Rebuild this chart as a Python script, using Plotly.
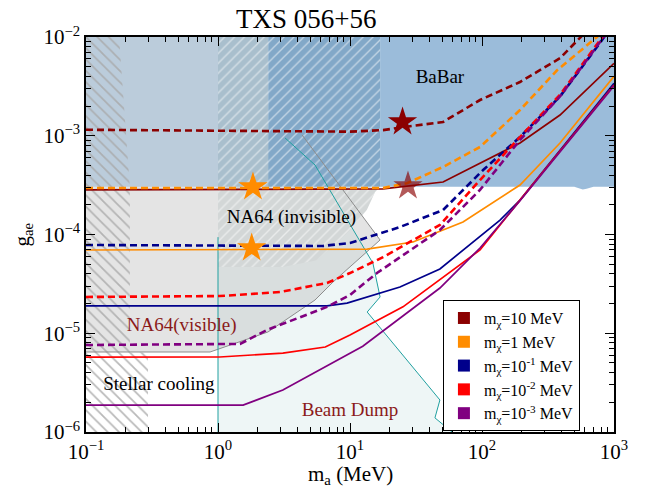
import plotly.graph_objects as go

FONT = "Liberation Serif, DejaVu Serif, Times New Roman, serif"

# ---------------- data ----------------
# BaBar excluded band (lower edge) and its colour zones along m_a
babar_zone_x = [0.1, 1.0, 2.4, 16.9, 1000]
babar_zone_colors = ["#BBCCDB", "#A9BFCD", "#82A8C8", "#9BBCDA"]
babar_low_x = [16.9, 500, 580, 620, 700, 1000]
babar_low_y = [3.05e-4, 3.05e-4, 2.85e-4, 2.9e-4, 3.05e-4, 3.05e-4]
g_top = 1e-2
g_babar = 3.05e-4

# Beam dump region
bd_x = [1.0, 1.0, 2.6, 3.22, 5.43, 14.9, 16.9, 13.5, 48, 44, 59.3]
bd_y = [1e-6, 9.4e-5, 8e-4, 9.5e-4, 5.06e-4, 5.14e-5, 2.33e-5, 1.64e-5, 2.11e-6, 1.39e-6, 1e-6]

# NA64 (visible) outline
na64v_x = [0.1, 0.87, 2.39, 5.43, 7.43, 16.9, 4.33, 0.1]
na64v_y = [6.46e-6, 6.46e-6, 1.03e-5, 2.17e-5, 3.3e-5, 8.8e-5, 1.02e-3, 1.02e-3]

# NA64 (invisible) hatched region
na64i_x = [1.0, 3.1, 5.6, 9.5, 13.4, 15.5, 16.9, 16.9, 1.0]
na64i_y = [4.7e-5, 4.7e-5, 5.5e-5, 1.03e-4, 1.77e-4, 2.7e-4, 3.05e-4, 1e-2, 1e-2]

# Stellar cooling hatched region
stellar_x = [0.1, 0.295, 0.295, 0.215, 0.215, 0.178, 0.1]
stellar_y = [1e-6, 1e-6, 6.4e-6, 6.4e-6, 3e-4, 1e-2, 1e-2]

# Sensitivity curves (m_chi values)
labels = ["m<sub>χ</sub>=10 MeV", "m<sub>χ</sub>=1 MeV", "m<sub>χ</sub>=10<sup>-1</sup> MeV",
          "m<sub>χ</sub>=10<sup>-2</sup> MeV", "m<sub>χ</sub>=10<sup>-3</sup> MeV"]
colors = ["#8B0000", "#FF8C00", "#00008B", "#FF0000", "#800080"]

dash_x = [
    [0.1, 1, 10, 17.8, 25, 50.7, 96.6, 194, 390, 552, 1000],
    [0.1, 17.8, 27, 50.7, 96.6, 194, 370, 743, 1000],
    [0.1, 6.2, 10, 23.9, 50.7, 102, 194, 390, 783, 1000],
    [0.1, 1.03, 2.95, 6.7, 10, 17.8, 48, 96.6, 194, 390, 783, 1000],
    [0.1, 1.47, 2.35, 6.7, 10, 16, 48, 96.6, 194, 390, 783, 1000],
]
dash_y = [
    [1.15e-3, 1.12e-3, 1.1e-3, 1.14e-3, 1.22e-3, 1.38e-3, 2.3e-3, 3.5e-3, 6.1e-3, 9.8e-3, 2.2e-2],
    [2.96e-4, 2.96e-4, 3.3e-4, 4.83e-4, 7.7e-4, 1.82e-3, 4.6e-3, 1.0e-2, 1.5e-2],
    [7.83e-5, 7.65e-5, 8.2e-5, 1.19e-4, 1.77e-4, 4.5e-4, 9.7e-4, 2.5e-3, 8.7e-3, 1.4e-2],
    [2.33e-5, 2.38e-5, 2.62e-5, 3.23e-5, 4.07e-5, 5.9e-5, 1.25e-4, 3.56e-4, 9.7e-4, 2.6e-3, 9.3e-3, 1.4e-2],
    [7.6e-6, 7.8e-6, 1.08e-5, 1.85e-5, 2.44e-5, 4.07e-5, 1.11e-4, 2.83e-4, 9.06e-4, 2.5e-3, 8.9e-3, 1.35e-2],
]
solid_x = [
    [0.1, 10, 17.8, 50.7, 194, 390, 1000],
    [0.1, 13.5, 30, 71.8, 194, 390, 1000],
    [0.1, 6.7, 9.5, 23.9, 48, 137, 194, 1000],
    [0.1, 1.03, 3.1, 6.5, 10, 25.2, 96.6, 194, 1000],
    [0.1, 1.55, 3.1, 12.5, 48, 96.6, 194, 1000],
]
solid_y = [
    [2.83e-4, 2.85e-4, 2.9e-4, 3.4e-4, 8.45e-4, 1.62e-3, 5.4e-3],
    [6.97e-5, 7.1e-5, 8.4e-5, 1.34e-4, 3.17e-4, 8.45e-4, 4.0e-3],
    [1.89e-5, 1.89e-5, 2.02e-5, 2.94e-5, 4.48e-5, 1.4e-4, 2.23e-4, 3.4e-3],
    [5.74e-6, 5.75e-6, 6.3e-6, 7.26e-6, 9.6e-6, 1.85e-5, 6.97e-5, 2.23e-4, 3.27e-3],
    [1.87e-6, 1.87e-6, 2.66e-6, 7.4e-6, 2.87e-5, 7.3e-5, 2.2e-4, 3.2e-3],
]

# Benchmark stars
star_x = [25, 27.5, 1.84, 1.8]
star_y = [1.38e-3, 3.1e-4, 3.03e-4, 7.3e-5]
star_colors = ["#8B0000", "#8B0000", "#FF8C00", "#FF8C00"]
star_opacity = [1.0, 0.65, 1.0, 1.0]

# Region labels
reg_text = ["BaBar", "NA64 (invisible)", "NA64(visible)", "Stellar cooling", "Beam Dump"]
reg_x = [48, 3.6, 0.53, 0.357, 10.0]
reg_y = [3.85e-3, 1.47e-4, 1.18e-5, 3.0e-6, 1.63e-6]
reg_col = ["black", "black", "#8B1A1A", "black", "#8B1A1A"]

# Axis ticks
x_tickvals = [0.1, 1, 10, 100, 1000]
x_ticktext = ["10<sup>−1</sup>", "10<sup>0</sup>", "10<sup>1</sup>", "10<sup>2</sup>", "10<sup>3</sup>"]
y_tickvals = [1e-6, 1e-5, 1e-4, 1e-3, 1e-2]
y_ticktext = ["10<sup>−6</sup>", "10<sup>−5</sup>", "10<sup>−4</sup>", "10<sup>−3</sup>", "10<sup>−2</sup>"]

# ---------------- figure ----------------
fig = go.Figure()

def poly(x, y, **kw):
    fig.add_trace(go.Scatter(x=x, y=y, mode="lines", fill="toself", line=dict(width=0),
                             hoverinfo="skip", showlegend=False, **kw))

# Beam dump fill
poly(bd_x, bd_y, fillcolor="#EEF6F6")
# NA64 visible gray (semi-transparent)
poly(na64v_x, na64v_y, fillcolor="rgba(185,185,185,0.38)")
# NA64 invisible base fill (below BaBar)
poly(na64i_x[:7] + [1.0], na64i_y[:7] + [g_babar], fillcolor="#D3D7D7")

# BaBar zones
for i, c in enumerate(babar_zone_colors):
    x0, x1 = babar_zone_x[i], babar_zone_x[i + 1]
    if i == len(babar_zone_colors) - 1:
        xs = [x0] + babar_low_x + [x1, x0]
        ys = [g_babar] + babar_low_y + [g_top, g_top]
    else:
        xs = [x0, x1, x1, x0]
        ys = [g_babar, g_babar, g_top, g_top]
    poly(xs, ys, fillcolor=c)

# Hatch patterns
fig.add_trace(go.Scatter(x=na64i_x, y=na64i_y, mode="lines", fill="toself", line=dict(width=0),
                         fillcolor="rgba(0,0,0,0)",
                         fillpattern=dict(shape="/", fgcolor="white", bgcolor="rgba(0,0,0,0)",
                                          fgopacity=0.5, size=7, solidity=0.2),
                         hoverinfo="skip", showlegend=False))
fig.add_trace(go.Scatter(x=stellar_x, y=stellar_y, mode="lines", fill="toself", line=dict(width=0),
                         fillcolor="rgba(0,0,0,0)",
                         fillpattern=dict(shape="\\", fgcolor="#A8A8A8", bgcolor="rgba(0,0,0,0)",
                                          fgopacity=0.8, size=8, solidity=0.22),
                         hoverinfo="skip", showlegend=False))

# Outlines
fig.add_trace(go.Scatter(x=na64v_x[:7], y=na64v_y[:7], mode="lines",
                         line=dict(color="#8C8C8C", width=1), hoverinfo="skip", showlegend=False))
fig.add_trace(go.Scatter(x=bd_x[:2], y=bd_y[:2], mode="lines",
                         line=dict(color="#20A0A0", width=1), hoverinfo="skip", showlegend=False))
fig.add_trace(go.Scatter(x=bd_x[3:], y=bd_y[3:], mode="lines",
                         line=dict(color="#20A0A0", width=1), hoverinfo="skip", showlegend=False))

# Curves
for i in range(5):
    fig.add_trace(go.Scatter(x=solid_x[i], y=solid_y[i], mode="lines",
                             line=dict(color=colors[i], width=1.7), hoverinfo="skip", showlegend=False))
for i in range(5):
    fig.add_trace(go.Scatter(x=dash_x[i], y=dash_y[i], mode="lines",
                             line=dict(color=colors[i], width=2.6, dash="7px,4px"),
                             hoverinfo="skip", showlegend=False))

# Stars
for sx, sy, sc, so in zip(star_x, star_y, star_colors, star_opacity):
    fig.add_trace(go.Scatter(x=[sx], y=[sy], mode="markers",
                             marker=dict(symbol="star", size=22, color=sc, opacity=so, line=dict(width=0)),
                             hoverinfo="skip", showlegend=False))

# Region labels
for t, x, y, c in zip(reg_text, reg_x, reg_y, reg_col):
    fig.add_trace(go.Scatter(x=[x], y=[y], mode="text", text=[t],
                             textfont=dict(family=FONT, size=19, color=c),
                             hoverinfo="skip", showlegend=False))

# Legend entries
for lab, c in zip(labels, colors):
    fig.add_trace(go.Scatter(x=[None], y=[None], mode="markers", name=lab,
                             marker=dict(symbol="square", size=14, color=c)))

axis_common = dict(
    type="log", showgrid=False, zeroline=False,
    showline=True, linecolor="black", linewidth=1.5, mirror="ticks",
    ticks="inside", ticklen=9, tickwidth=1.3, tickcolor="black",
    tickfont=dict(family=FONT, size=21, color="black"),
    minor=dict(ticks="inside", ticklen=5, tickwidth=1, tickcolor="black", dtick="D1", showgrid=False),
)

fig.update_layout(
    width=650, height=495,
    margin=dict(l=86, r=36, t=37, b=63, autoexpand=False),
    paper_bgcolor="white", plot_bgcolor="white",
    font=dict(family=FONT, color="black"),
    title=dict(text="TXS 056+56", x=0.471, xanchor="center", y=0.963, yanchor="middle",
               font=dict(family=FONT, size=27, color="black")),
    xaxis=dict(range=[-1, 3], tickvals=x_tickvals, ticktext=x_ticktext, **axis_common),
    yaxis=dict(range=[-6, -2], tickvals=y_tickvals, ticktext=y_ticktext, **axis_common),
    showlegend=True,
    legend=dict(x=0.676, y=0.334, xanchor="left", yanchor="top",
                bgcolor="white", bordercolor="black", borderwidth=1,
                font=dict(family=FONT, size=16, color="black"),
                itemsizing="constant", tracegroupgap=0),
    annotations=[
        dict(text="m<sub>a</sub> (MeV)", xref="paper", yref="paper", x=0.5, y=-0.11,
             xanchor="center", yanchor="middle", showarrow=False,
             font=dict(family=FONT, size=21, color="black")),
        dict(text="g<sub>ae</sub>", xref="paper", yref="paper", x=-0.121, y=0.5,
             xanchor="center", yanchor="middle", showarrow=False, textangle=-90,
             font=dict(family=FONT, size=21, color="black")),
    ],
)

fig.write_html("out.html")
